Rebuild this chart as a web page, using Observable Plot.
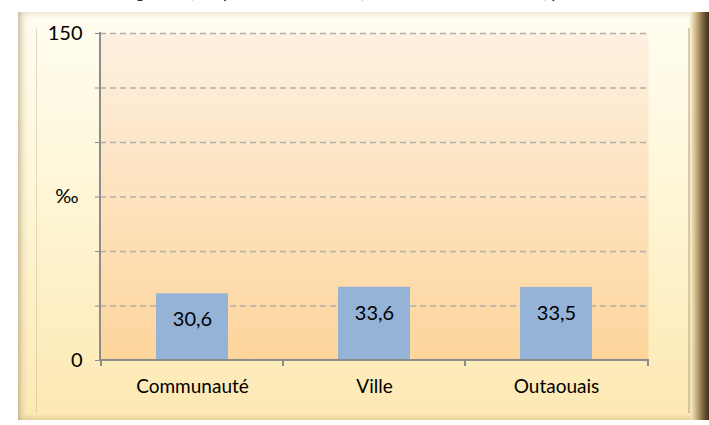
<!DOCTYPE html>
<html>
<head>
<meta charset="utf-8">
<script src="https://cdn.jsdelivr.net/npm/d3@7"></script>
<script src="https://cdn.jsdelivr.net/npm/@observablehq/plot@0.6"></script>
<style>
  html, body { margin: 0; padding: 0; background: #fff; }
  #wrap { position: relative; width: 709px; height: 425px; overflow: hidden; }
  #title { position: absolute; left: 2px; top: -20px; font-family: "Lato", sans-serif; font-style: italic; font-size: 18px; color: #222; white-space: nowrap; }
  #frame { position: absolute; left: 18px; top: 12px; width: 691px; height: 408px;
    background:
      linear-gradient(to right, rgba(170,150,110,0.55) 0px, rgba(220,205,170,0.35) 5px, rgba(255,255,255,0) 10px),
      linear-gradient(to left, #3e3020 0px, #6e5838 5px, #b89e70 11px, #efdfb6 17px, rgba(255,255,255,0) 20px),
      linear-gradient(to bottom, rgba(235,230,210,0.9) 0px, rgba(255,255,255,0) 6px),
      linear-gradient(to top, rgba(215,190,140,0.6) 0px, rgba(255,255,255,0) 6px),
      linear-gradient(to bottom, #fffdf1 0%, #fef6d6 45%, #fde8b2 100%);
  }
  #innerline { position: absolute; left: 36px; top: 28px; width: 651px; height: 385px;
    border-left: 1px solid rgba(200,185,150,0.5); border-right: 2px solid rgba(190,175,140,0.6); }
  #chart { position: absolute; left: 0; top: 0; }
</style>
</head>
<body>
<div id="wrap">
  <div id="title">Taux de fécondité général, moyenne 2004-2008, femmes de 15 à 49 ans, par territoire</div>
  <div id="frame"></div>
  <div id="innerline"></div>
  <div id="chart"></div>
</div>
<script>
const categories = ["Communauté", "Ville", "Outaouais"];
const values = [30.6, 33.6, 33.5];
const valueLabels = ["30,6", "33,6", "33,5"];
const yTicks = [0, 25, 50, 75, 100, 125, 150];
const yTickLabels = {0: "0", 150: "150"};
const unitLabel = "‰";
const unitPosition = [75];

const data = categories.map((c, i) => ({cat: c, value: values[i], label: valueLabels[i]}));

function axisLines(index, scales, vals, dims) {
  const g = d3.create("svg:g").attr("stroke", "#8c8c8c").attr("stroke-width", 2).attr("fill", "none");
  const left = dims.marginLeft, right = dims.width - dims.marginRight;
  const y0 = scales.y(0), yTop = scales.y(150);
  g.append("line").attr("x1", left).attr("x2", left).attr("y1", yTop - 1).attr("y2", y0);
  g.append("line").attr("x1", left).attr("x2", right + 1).attr("y1", y0).attr("y2", y0);
  const bounds = categories.map(c => scales.x(c)).concat([right]);
  for (const b of bounds) {
    g.append("line").attr("x1", b).attr("x2", b).attr("y1", y0).attr("y2", y0 + 6);
  }
  return g.node();
}

const chart = Plot.plot({
  width: 709,
  height: 425,
  marginLeft: 100,
  marginRight: 61,
  marginTop: 33,
  marginBottom: 65,
  style: {background: "transparent", fontFamily: "Lato, sans-serif", fontSize: "19px", color: "#000", overflow: "visible"},
  x: {domain: categories, padding: 0, label: null},
  y: {domain: [0, 150], label: null},
  marks: [
    Plot.frame({fill: "url(#plotBg)", stroke: "none"}),
    Plot.ruleY(yTicks.filter(d => d > 0), {stroke: "#b4b0a8", strokeWidth: 1.5, strokeDasharray: "6,4"}),
    Plot.barY(data, {x: "cat", y: "value", fill: "#95b3d7", insetLeft: 55, insetRight: 55}),
    Plot.text(data, {x: "cat", y: "value", text: "label", dy: 26, fill: "#000", fontSize: 20}),
    Plot.axisY({ticks: yTicks, tickFormat: d => yTickLabels[d] ?? "", tickSize: 5, tickPadding: 13, stroke: "#8c8c8c", fill: "#000", fontSize: 20, label: null}),
    Plot.axisX({tickSize: 0, tickPadding: 19, fill: "#000", fontSize: 19, label: null}),
    Plot.text(unitPosition, {y: d => d, text: () => unitLabel, frameAnchor: "left", dx: -22, textAnchor: "end", fill: "#000", fontSize: 20}),
    axisLines
  ]
});

const defs = d3.create("svg:defs");
const grad = defs.append("linearGradient").attr("id", "plotBg").attr("x1", 0).attr("y1", 0).attr("x2", 0).attr("y2", 1);
grad.append("stop").attr("offset", "0%").attr("stop-color", "#fdf0e0");
grad.append("stop").attr("offset", "100%").attr("stop-color", "#fdd59c");
chart.insertBefore(defs.node(), chart.firstChild);

document.getElementById("chart").appendChild(chart);
</script>
</body>
</html>
